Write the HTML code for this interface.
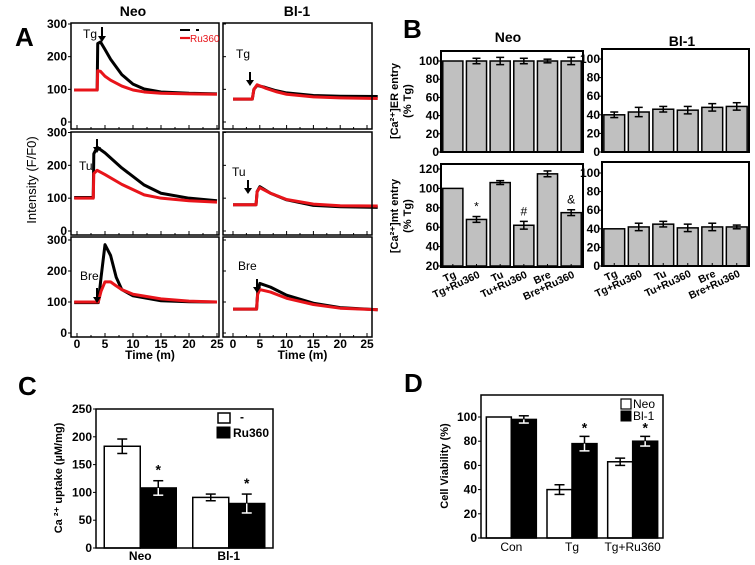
<!DOCTYPE html>
<html><head><meta charset="utf-8">
<style>
body{margin:0;background:#fff;}
svg{display:block;font-family:"Liberation Sans",Arial,sans-serif;font-weight:bold;}
</style></head>
<body>
<svg id="fig" width="755" height="565" viewBox="0 0 755 565" xmlns="http://www.w3.org/2000/svg"></svg>
<script>
// ---------- Panel A data (time in min, intensity) ----------
const aNeoTgT=[-0.5,3.6,3.7,4.2,5,6,8,10,12,15,20,25];
const aNeoTgBlack=[98,98,240,245,222,192,145,116,101,92,88,86];
const aNeoTgRed=[98,98,157,155,140,128,110,98,92,88,86,85];
const aBlTgT=[0,3.6,3.9,4.5,6,8,10,15,20,27];
const aBlTgBlack=[70,70,100,112,106,96,89,81,79,78];
const aBlTgRed=[70,70,100,114,104,93,85,77,74,72];
const aNeoTuT=[-0.5,2.9,3.0,3.6,5,8,12,15,20,25];
const aNeoTuBlack=[102,102,235,255,238,192,140,115,100,92];
const aNeoTuRed=[100,100,175,185,172,142,110,100,92,88];
const aBlTuT=[0,4.3,4.5,5,7,10,15,20,27];
const aBlTuBlack=[80,80,120,135,115,95,78,74,72];
const aBlTuRed=[80,80,120,132,115,96,82,77,76];
const aNeoBreT=[-0.5,3.8,4.3,5,6,7,8,10,15,20,25];
const aNeoBreBlack=[98,98,180,285,250,180,140,120,104,101,100];
const aNeoBreRed=[100,100,135,165,165,152,140,125,110,103,100];
const aBlBreT=[0,4.4,4.6,5,7,10,15,20,27];
const aBlBreBlack=[77,77,130,160,148,122,96,82,75];
const aBlBreRed=[77,77,125,140,132,112,92,80,75];
const aTimeTicks=[0,5,10,15,20,25];
const aYTicks=[0,100,200,300];
// ---------- Panel B ----------
const bCats=["Tg","Tg+Ru360","Tu","Tu+Ru360","Bre","Bre+Ru360"];
const bNeoER=[100,100,100,100,100,100];
const bNeoERerr=[0,3,4,3,2,4];
const bBlER=[40,43,46,45,48,49];
const bBlERerr=[3,5,3,4,4,4];
const bNeoPM=[100,68,106,62,115,75];
const bNeoPMerr=[0,3,2,4,3,3];
const bNeoPMmark=["","*","","#","","&"];
const bBlPM=[40,42,45,41,42,42];
const bBlPMerr=[0,4,3,4,4,2];
const bTicks100=[0,20,40,60,80,100];
const bTicks120=[20,40,60,80,100,120];
// ---------- Panel C ----------
const cGroups=["Neo","Bl-1"];
const cControl=[183,91];
const cControlErr=[13,6];
const cRu=[108,80];
const cRuErr=[13,17];
const cTicks=[0,50,100,150,200,250];
// ---------- Panel D ----------
const dGroups=["Con","Tg","Tg+Ru360"];
const dNeo=[100,40,63];
const dNeoErr=[0,4,3];
const dBl=[98,78,80];
const dBlErr=[3,6,4];
const dTicks=[0,20,40,60,80,100];

const NS="http://www.w3.org/2000/svg";
const svg=document.getElementById('fig');
function mk(tag,attrs,parent){const e=document.createElementNS(NS,tag);for(const k in attrs)e.setAttribute(k,attrs[k]);(parent||svg).appendChild(e);return e;}
function txt(x,y,s,size,anchor,name,extra){const e=mk('text',Object.assign({x:x,y:y,'font-size':size,'text-anchor':anchor||'middle'},extra||{}));e.textContent=s;


return e;}
function lin(x1,y1,x2,y2,w,name,col){const e=mk('line',{x1:x1,y1:y1,x2:x2,y2:y2,stroke:col||'#000','stroke-width':w});


return e;}
function box(x,y,w,h,name,fill,sw){const e=mk('rect',{x:x,y:y,width:w,height:h,fill:fill||'none',stroke:'#000','stroke-width':sw||1.5});


return e;}

// ---------- Panel A ----------
txt(15,46,"A",26,"start","panel-a-label");
txt(133,16,"Neo",14,"middle","neo-column-title");
txt(297,16,"Bl-1",14,"middle","bl1-column-title");
const rows=[{top:23,bot:129,y0:122,y300:24},{top:132,bot:235,y0:231,y300:132.5},{top:237,bot:337,y0:333,y300:240}];
const cols=[{l:71,r:219,x0:77,pxm:5.6},{l:223,r:372,x0:233,pxm:5.36}];
const traces=[
 [[aNeoTgT,aNeoTgBlack,aNeoTgRed],[aBlTgT,aBlTgBlack,aBlTgRed]],
 [[aNeoTuT,aNeoTuBlack,aNeoTuRed],[aBlTuT,aBlTuBlack,aBlTuRed]],
 [[aNeoBreT,aNeoBreBlack,aNeoBreRed],[aBlBreT,aBlBreBlack,aBlBreRed]]];
const rowNames=["tg","tu","bre"];
rows.forEach((r,ri)=>{cols.forEach((c,ci)=>{
  const X=t=>c.x0+t*c.pxm, Y=v=>r.y0-(v/300)*(r.y0-r.y300);
  const g=mk('g',{});
  
  
  const [T,B,R]=traces[ri][ci];
  const pb=mk('polyline',{points:T.map((t,i)=>X(t)+','+Y(B[i])).join(' '),fill:'none',stroke:'#000','stroke-width':3,'stroke-linejoin':'round'},g);
  
  
  const pr=mk('polyline',{points:T.map((t,i)=>X(t)+','+Y(R[i])).join(' '),fill:'none',stroke:'#e8141a','stroke-width':3,'stroke-linejoin':'round'},g);
  
  
  box(c.l,r.top,c.r-c.l,r.bot-r.top,'trace-axes-frame','none',1.5);
  for(let t=0;t<=27;t+=2.5){const x=X(t);if(x>c.r-1)break;lin(x,r.bot,x,r.bot-(t%5==0?4:2),1,'x-tick');}
  if(ci==0){aYTicks.forEach(v=>{lin(c.l,Y(v),c.l-3,Y(v),1,'y-tick');txt(c.l-4,Y(v)+4,String(v),12,'end','y-tick-label');});}
  else{aYTicks.forEach(v=>lin(c.l,Y(v),c.l+3,Y(v),1,'y-tick'));}
  if(ri==2){aTimeTicks.forEach(t=>txt(X(t),348,String(t),12,'middle','x-tick-label'));
    txt((c.l+c.r)/2+5,359,"Time (m)",12,'middle','x-axis-title');}
});});
txt(36,180,"Intensity (F/F0)",13,'middle','y-axis-title',{transform:'rotate(-90 36 180)',style:'font-weight:normal'});
const lbls=[[83,38,"Tg",102,27,41],[236,58,"Tg",250,72,85],[79,170,"Tu",97,139,152],[232,176,"Tu",248,180,193],[80,280,"Bre",97,288,302],[238,270,"Bre",257,279,292]];
lbls.forEach(l=>{txt(l[0],l[1],l[2],12,'start','treatment-label',{style:'font-weight:normal'});
 lin(l[3],l[4],l[3],l[5]-3,2,'stimulus-arrow');
 const p=mk('path',{d:`M${l[3]-4},${l[5]-5} L${l[3]+4},${l[5]-5} L${l[3]},${l[5]+1}Z`,fill:'#000'});
 
 });
lin(180,30,190,30,2,'legend-control-line');lin(196,30,199,30,2,'legend-dash');
lin(180,38,190,38,2.2,'legend-ru360-line','#e8141a');
txt(190,42,"Ru360",10,'start','legend-ru360-label',{fill:'#e8141a',style:'font-weight:normal'});

// ---------- Panel B ----------
txt(403,38,"B",26,"start","panel-b-label");
txt(508,42,"Neo",14,'middle','b-neo-title');
txt(682,46,"Bl-1",14,'middle','b-bl1-title');
function barPanel(p){
  const Y=v=>p.y0-(v-p.vmin)/(p.vmax-p.vmin)*(p.y0-p.ytop);
  const step=(p.r-p.l)/p.vals.length;
  p.vals.forEach((v,i)=>{const cx=p.l+step*(i+0.5),w=step*0.85;
    box(cx-w/2,Y(v),w,p.y0-Y(v),'bar-'+bCats[i].toLowerCase().replace('+','-'),'#c0c0c0',1.5);
    if(p.err[i]>0){lin(cx,Y(v+p.err[i]),cx,Y(v-p.err[i]),1.5,'error-bar');lin(cx-4,Y(v+p.err[i]),cx+4,Y(v+p.err[i]),1.5,'error-cap');lin(cx-4,Y(v-p.err[i]),cx+4,Y(v-p.err[i]),1.5,'error-cap');}
    if(p.marks&&p.marks[i])txt(cx,Y(v+p.err[i])-6,p.marks[i],12,'middle','significance-mark',{style:'font-weight:normal'});
    if(p.xl){lin(cx,p.bot,cx,p.bot-3,1,'x-tick');
      txt(cx+4,p.bot+10,bCats[i],10.5,'end','x-tick-label',{transform:`rotate(-25 ${cx+4} ${p.bot+10})`});}
  });
  box(p.l,p.top,p.r-p.l,p.bot-p.top,'bar-axes-frame','none',2);
  p.ticks.forEach(t=>{lin(p.l,Y(t),p.l-3,Y(t),1,'y-tick');txt(p.l-2,Y(t)+4,String(t),12,'end','y-tick-label');});
}
barPanel({l:441,r:583,top:51,bot:152,y0:152,ytop:61,vmin:0,vmax:100,vals:bNeoER,err:bNeoERerr,ticks:bTicks100});
barPanel({l:602,r:749,top:49,bot:152,y0:152,ytop:59,vmin:0,vmax:100,vals:bBlER,err:bBlERerr,ticks:bTicks100});
barPanel({l:441,r:583,top:164,bot:267,y0:266,ytop:169,vmin:20,vmax:120,vals:bNeoPM,err:bNeoPMerr,marks:bNeoPMmark,ticks:bTicks120,xl:true});
barPanel({l:602,r:749,top:162,bot:266,y0:266,ytop:173,vmin:0,vmax:100,vals:bBlPM,err:bBlPMerr,ticks:bTicks100,xl:true});
txt(398,101,"[Ca\u00B2\u207A]ER entry",11,'middle','b-top-y-title',{transform:'rotate(-90 398 101)'});
txt(411,101,"(% Tg)",11,'middle','b-top-y-title-2',{transform:'rotate(-90 411 101)'});
txt(398,216,"[Ca\u00B2\u207A]mt entry",11,'middle','b-bottom-y-title',{transform:'rotate(-90 398 216)'});
txt(411,216,"(% Tg)",11,'middle','b-bottom-y-title-2',{transform:'rotate(-90 411 216)'});

// ---------- Panel C ----------
txt(18,395,"C",26,"start","panel-c-label");
(function(){
 const l=96,r=273,top=409,bot=548,Y=v=>bot-v/250*(bot-top);
 const gw=(r-l)/2;
 cGroups.forEach((g,i)=>{const c=l+gw*(i+0.5);
  const bw=36;
  box(c-bw,Y(cControl[i]),bw,bot-Y(cControl[i]),'bar-'+g.toLowerCase()+'-control','#fff',1.5);
  box(c,Y(cRu[i]),bw,bot-Y(cRu[i]),'bar-'+g.toLowerCase()+'-ru360','#000',1.5);
  [[c-bw/2,cControl[i],cControlErr[i]],[c+bw/2,cRu[i],cRuErr[i]]].forEach(e=>{lin(e[0],Y(e[1]),e[0],Y(e[1]+e[2]),1.5,'error-bar');lin(e[0]-5,Y(e[1]+e[2]),e[0]+5,Y(e[1]+e[2]),1.5,'error-cap');lin(e[0],Y(e[1]),e[0],Y(e[1]-e[2]),1.5,'error-bar',e[0]>c?'#fff':'#000');lin(e[0]-5,Y(e[1]-e[2]),e[0]+5,Y(e[1]-e[2]),1.5,'error-cap',e[0]>c?'#fff':'#000');});
  txt(c+bw/2,Y(cRu[i]+cRuErr[i])-6,"*",14,'middle','significance-mark');
  txt(c,560,g,12,'middle','x-tick-label');});
 box(l,top,r-l,bot-top,'c-axes-frame','none',1.5);
 cTicks.forEach(t=>{lin(l,Y(t),l-3,Y(t),1,'y-tick');txt(l-4,Y(t)+4,String(t),12,'end','y-tick-label');});
 txt(62,478,"Ca \u00B2\u207A uptake (\u00B5M/mg)",11,'middle','c-y-axis-title',{transform:'rotate(-90 62 478)'});
 box(218,413,12,10,'legend-control-swatch','#fff',1.5);txt(240,421,"-",12,'start','legend-control-label');
 box(217,427,13,11,'legend-ru360-swatch','#000',1);txt(233,437,"Ru360",12,'start','legend-ru360-label');
})();

// ---------- Panel D ----------
txt(404,392,"D",26,"start","panel-d-label");
(function(){
 const l=481,r=663,top=395,bot=538,Y=v=>bot-v/100*(bot-417);
 const gw=(r-l)/3;
 dGroups.forEach((g,i)=>{const c=l+gw*(i+0.5),bw=25;
  box(c-bw,Y(dNeo[i]),bw,bot-Y(dNeo[i]),'bar-'+g.toLowerCase()+'-neo','#fff',1.5);
  box(c,Y(dBl[i]),bw,bot-Y(dBl[i]),'bar-'+g.toLowerCase()+'-bl1','#000',1.5);
  [[c-bw/2,dNeo[i],dNeoErr[i],'#000'],[c+bw/2,dBl[i],dBlErr[i],'#fff']].forEach(e=>{if(!e[2])return;lin(e[0],Y(e[1]),e[0],Y(e[1]+e[2]),1.5,'error-bar');lin(e[0]-5,Y(e[1]+e[2]),e[0]+5,Y(e[1]+e[2]),1.5,'error-cap');lin(e[0],Y(e[1]),e[0],Y(e[1]-e[2]),1.5,'error-bar',e[3]);lin(e[0]-5,Y(e[1]-e[2]),e[0]+5,Y(e[1]-e[2]),1.5,'error-cap',e[3]);});
  if(i>0)txt(c+bw/2,Y(dBl[i]+dBlErr[i])-4,"*",14,'middle','significance-mark');
  txt(c,551,g,12,'middle','x-tick-label',{style:'font-weight:normal'});});
 box(l,top,r-l,bot-top,'d-axes-frame','none',1.5);
 dTicks.forEach(t=>{lin(l,Y(t),l-3,Y(t),1,'y-tick');txt(l-4,Y(t)+4,String(t),12,'end','y-tick-label');});
 txt(448,466,"Cell Viability (%)",11,'middle','d-y-axis-title',{transform:'rotate(-90 448 466)'});
 box(621,399,10,10,'legend-neo-swatch','#fff',1.2);txt(633,408,"Neo",12,'start','legend-neo-label',{style:'font-weight:normal'});
 box(621,411,10,10,'legend-bl1-swatch','#000',1);txt(633,420,"Bl-1",12,'start','legend-bl1-label',{style:'font-weight:normal'});
})();
</script>
</body></html>
